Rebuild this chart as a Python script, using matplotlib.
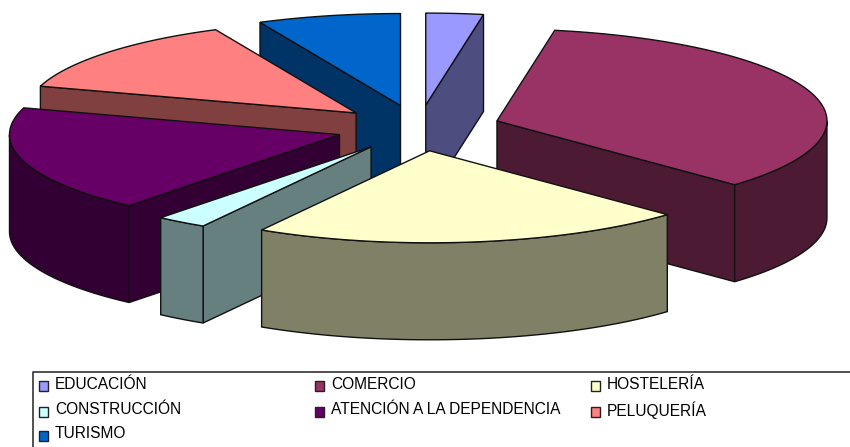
# plot.py
# exploded 3d style pie drawn with plain polygons, excel look

import numpy as np
import matplotlib
matplotlib.use("Agg")
import matplotlib.pyplot as plt
from matplotlib.patches import Polygon, Rectangle

categories = ["EDUCACIÓN", "COMERCIO", "HOSTELERÍA", "CONSTRUCCIÓN",
              "ATENCIÓN A LA DEPENDENCIA", "PELUQUERÍA", "TURISMO"]
values = [2.8, 34.4, 21.3, 2.5, 18.7, 13.3, 7.0]
top_colors = ["#9999FF", "#993366", "#FFFFCC", "#CCFFFF", "#660066", "#FF8080", "#0066CC"]
side_colors = ["#4D4D80", "#4D1A33", "#808066", "#668080", "#330033", "#804040", "#003366"]

# back to front
draw_order = [0, 1, 6, 5, 4, 3, 2]

CENTER_X, CENTER_Y = 418.5, 128
RX, RY = 330, 92
EXPLODE = 0.25
DEPTH = 97
EDGE = "#111111"
LW = 1.0

plt.rcParams["font.family"] = ["Liberation Sans", "DejaVu Sans"]
fig = plt.figure(figsize=(8.5, 4.47), dpi=100)
ax = fig.add_axes([0, 0, 1, 1])
ax.set_xlim(0, 850)
ax.set_ylim(447, 0)
ax.axis("off")


def rim_points(ox, oy, angles):
    return np.column_stack((ox + RX * np.sin(angles), oy - RY * np.cos(angles)))


def add_poly(points, color):
    ax.add_patch(Polygon(points, closed=True, facecolor=color, edgecolor=EDGE, linewidth=LW, joinstyle="miter"))


def draw_slice(start, end, top_color, side_color):
    mid = (start + end) / 2
    ox = CENTER_X + EXPLODE * RX * np.sin(mid)
    oy = CENTER_Y - EXPLODE * RY * np.cos(mid)
    apex = np.array([ox, oy])
    down = np.array([0, DEPTH])
    angles = np.linspace(start, end, 80)
    rim = rim_points(ox, oy, angles)

    # only the faces turned to the viewer get drawn
    if np.sin(start) < 0:
        add_poly([apex, rim[0], rim[0] + down, apex + down], side_color)
    if np.sin(end) > 0:
        add_poly([apex, rim[-1], rim[-1] + down, apex + down], side_color)
    front = rim[np.cos(angles) < 0]
    if len(front) > 1:
        add_poly(np.vstack((front, (front + down)[::-1])), side_color)
    add_poly(np.vstack((apex, rim)), top_color)


edges = np.cumsum([0] + values) / sum(values) * 2 * np.pi
for i in draw_order:
    draw_slice(edges[i], edges[i + 1], top_colors[i], side_colors[i])

# legend frame runs off the right and bottom of the picture
ax.plot([33.5, 33.5, 850], [447, 372, 372], color="#333333", lw=1.2, clip_on=True)
legend_x = [39, 315, 591]
legend_y = [386, 411.5, 435.5]
for i, name in enumerate(categories):
    col, row = i % 3, i // 3
    x, y = legend_x[col], legend_y[row]
    ax.add_patch(Rectangle((x, y - 5), 9, 10, facecolor=top_colors[i], edgecolor="#222222", linewidth=1.0))
    ax.text(x + 16, y - 1.5, name, fontsize=11.2, va="center", ha="left", color="black")

fig.savefig("out.png", dpi=100)
